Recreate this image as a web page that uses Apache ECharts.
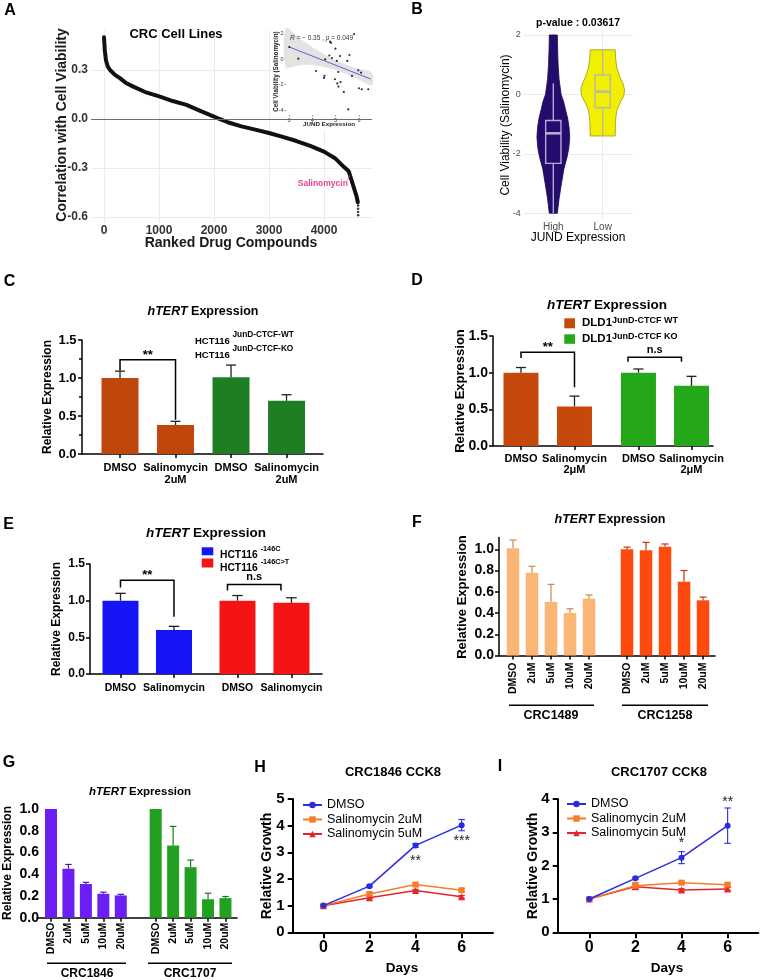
<!DOCTYPE html>
<html><head><meta charset="utf-8">
<script src="https://cdn.jsdelivr.net/npm/echarts@6/dist/echarts.min.js"></script>
<style>html,body{margin:0;padding:0;background:#fff}#main{width:761px;height:980px}</style>
</head><body><div id="main"></div>
<script>
const FONT = '"Liberation Sans", Arial, Helvetica, sans-serif';

// ================= DATA =================
// A: ranked drug compounds (correlation with cell viability)
const rankA = [0, 15, 36, 70, 110, 200, 290, 400, 533, 750, 1018, 1250, 1500, 1750, 2000, 2100, 2250, 2500, 2750, 3000, 3250, 3500, 3750, 4000, 4200, 4350, 4450, 4533, 4594, 4615];
const corrA = [0.50, 0.42, 0.36, 0.32, 0.30, 0.27, 0.25, 0.22, 0.198, 0.165, 0.137, 0.11, 0.086, 0.05, 0.015, 0.0, -0.02, -0.045, -0.065, -0.086, -0.11, -0.135, -0.165, -0.20, -0.24, -0.29, -0.32, -0.41, -0.476, -0.51];
const tailRankA = [4620, 4620, 4620, 4621];
const tailCorrA = [-0.53, -0.55, -0.57, -0.59];
const hitNameA = ['Salinomycin'];
const hitRankA = [4470];
const hitCorrA = [-0.345];
const tickAx = [0, 1000, 2000, 3000, 4000];
const tickAy = [-0.6, -0.3, 0, 0.3];
// A inset: JUND expression vs cell viability
const jundExpr = [3.01, 3.40, 4.16, 4.55, 4.52, 4.50, 4.76, 4.80, 4.73, 4.84, 4.99, 5.05, 4.97, 5.07, 5.12, 5.21, 5.19, 5.11, 5.35, 5.50, 5.54, 5.59, 5.70, 5.79, 5.97, 6.09, 6.00, 6.12, 6.40];
const viabSal = [0.97, 0.05, -0.92, 0.0, -1.30, -1.47, 1.39, 1.30, 0.30, 0.10, 0.84, -0.13, -1.57, -1.90, -2.15, -1.79, 0.26, -1.0, -2.57, -0.13, -3.95, 0.34, -1.31, 1.99, -0.87, -1.05, -2.28, -2.36, -2.36];
const fitX = [3.0, 6.5];
const fitY = [0.98, -1.55];
const bandX = [2.87, 3.5, 4.0, 4.5, 5.0, 5.5, 6.0, 6.56];
const bandLo = [-0.6, -0.45, -0.45, -0.6, -0.85, -1.2, -1.6, -2.05];
const bandHi = [2.45, 1.6, 0.95, 0.4, -0.1, -0.45, -0.75, -1.05];
const insetTickX = [3, 4, 5, 6];
const insetTickY = [-4, -2, 0, 2];

// B: violin (High / Low JUND)
const violinCats = ['High', 'Low'];
const highDensY = [2.0, 1.5, 1.0, 0.5, 0.0, -0.25, -0.5, -0.8, -1.1, -1.45, -1.8, -2.1, -2.5, -3.0, -3.5, -4.0];
const highDensW = [0.081, 0.087, 0.097, 0.117, 0.158, 0.21, 0.245, 0.29, 0.318, 0.332, 0.314, 0.28, 0.215, 0.165, 0.117, 0.081];
const lowDensY = [1.5, 1.2, 0.9, 0.6, 0.35, 0.15, -0.05, -0.25, -0.5, -0.75, -1.0, -1.4];
const lowDensW = [0.253, 0.263, 0.287, 0.344, 0.415, 0.445, 0.425, 0.364, 0.294, 0.267, 0.259, 0.253];
const boxHigh = [-4.0, -2.32, -1.31, -0.88, 0.37];
const boxLow = [-1.4, -0.45, 0.09, 0.65, 1.5];
const tickBy = [-4, -2, 0, 2];

// C
const labelsC = ['DMSO', 'Salinomycin\n2uM', 'DMSO', 'Salinomycin\n2uM'];
const valsC = [1.0, 0.38, 1.01, 0.70];
const errsC = [0.09, 0.05, 0.16, 0.08];
const bracketC = [[0, 1, 1.24, 1.10, 0.45]];
const bracketTextC = ['**'];
// D
const labelsD = ['DMSO', 'Salinomycin\n2μM', 'DMSO', 'Salinomycin\n2μM'];
const valsD = [1.0, 0.54, 1.0, 0.82];
const errsD = [0.07, 0.14, 0.05, 0.13];
const bracketD = [[0, 1, 1.28, 1.20, 0.80], [2, 3, 1.21, 1.15, 1.15]];
const bracketTextD = ['**', 'n.s'];
// E
const labelsE = ['DMSO', 'Salinomycin', 'DMSO', 'Salinomycin'];
const valsE = [1.0, 0.60, 1.0, 0.97];
const errsE = [0.10, 0.05, 0.07, 0.07];
const bracketE = [[0, 1, 1.28, 1.18, 0.78], [2, 3, 1.22, 1.14, 1.14]];
const bracketTextE = ['**', 'n.s'];
// F
const doseLabels = ['DMSO', '2uM', '5uM', '10uM', '20uM'];
const valsF1489 = [1.01, 0.78, 0.505, 0.40, 0.535];
const errsF1489 = [0.077, 0.06, 0.165, 0.04, 0.035];
const valsF1258 = [1.0, 0.99, 1.025, 0.695, 0.52];
const errsF1258 = [0.02, 0.075, 0.025, 0.105, 0.03];
const tickFy = [0, 0.2, 0.4, 0.6, 0.8, 1.0];
// G
const valsG1846 = [1.0, 0.45, 0.31, 0.22, 0.205];
const errsG1846 = [0, 0.04, 0.015, 0.015, 0.01];
const valsG1707 = [1.0, 0.665, 0.465, 0.17, 0.18];
const errsG1707 = [0, 0.175, 0.065, 0.055, 0.015];
// H
const days = [0, 2, 4, 6];
const dayTicks = [0, 2, 4, 6];
const hDMSO = [1.0, 1.73, 3.26, 4.02];
const hDMSOe = [0.03, 0.04, 0.07, 0.21];
const h2uM = [1.0, 1.44, 1.79, 1.58];
const h2uMe = [0.02, 0.07, 0.07, 0.05];
const h5uM = [1.0, 1.30, 1.57, 1.33];
const h5uMe = [0.02, 0.04, 0.04, 0.05];
const hStars = [[4, 2.83], [6, 3.55]];
const hStarText = ['**', '***'];
// I
const iDMSO = [1.0, 1.62, 2.24, 3.2];
const iDMSOe = [0.03, 0.03, 0.18, 0.53];
const i2uM = [1.0, 1.40, 1.49, 1.43];
const i2uMe = [0.02, 0.10, 0.04, 0.05];
const i5uM = [1.0, 1.37, 1.27, 1.30];
const i5uMe = [0.02, 0.08, 0.04, 0.04];
const iStars = [[4, 2.8], [6, 4.02]];
const iStarText = ['*', '**'];
const seriesNames = ['DMSO', 'Salinomycin 2uM', 'Salinomycin 5uM'];

// ================= BUILD =================
const grids = [], xAxes = [], yAxes = [], series = [], graphics = [], legends = [];

function addGrid(l, t, w, h) {
  grids.push({left: l, top: t, width: w, height: h, show: false, containLabel: false, outerBoundsMode: 'none'});
  return grids.length - 1;
}
function labelAt(pos, labels, v) {
  for (let i = 0; i < pos.length; i++) if (Math.abs(pos[i] - v) < 1e-6) return labels[i];
  return '';
}
function gText(x, y, text, fs, o) {
  o = o || {};
  const al = o.align || 'center', va = o.va || 'middle';
  graphics.push({type: 'text', x: x, y: y, rotation: o.rot || 0, z: 20, silent: true,
    style: {text: text, fontSize: fs, fontFamily: FONT, fontWeight: o.weight || 'bold', fontStyle: o.fstyle || 'normal',
      fill: o.color || '#000', align: al, verticalAlign: va, textAlign: al, textVerticalAlign: va, rich: o.rich}});
}
function gLine(x1, y1, x2, y2, w, c) {
  graphics.push({type: 'line', z: 20, silent: true, shape: {x1: x1, y1: y1, x2: x2, y2: y2}, style: {stroke: c || '#000', lineWidth: w || 1.5}});
}
function gRect(x, y, w, h, c, z) {
  graphics.push({type: 'rect', z: z || 20, silent: true, shape: {x: x, y: y, width: w, height: h}, style: {fill: c}});
}
const italicRich = (fs) => ({i: {fontStyle: 'italic', fontWeight: 'bold', fontSize: fs, fontFamily: FONT}});

function errBars(gi, xs, ys, es, colors, cap, lw, both) {
  series.push({type: 'custom', coordinateSystem: 'cartesian2d', xAxisIndex: gi, yAxisIndex: gi, z: 3, silent: true,
    data: xs.map((x, i) => [x, ys[i], es[i]]),
    renderItem: (params, api) => {
      const x = api.value(0), y = api.value(1), e = api.value(2);
      if (!(e > 0)) return null;
      const c = colors[params.dataIndex];
      const st = {stroke: c, lineWidth: lw};
      const a = api.coord([x, both ? y - e : y]), b = api.coord([x, y + e]);
      const ch = [
        {type: 'line', shape: {x1: a[0], y1: a[1], x2: b[0], y2: b[1]}, style: st},
        {type: 'line', shape: {x1: b[0] - cap / 2, y1: b[1], x2: b[0] + cap / 2, y2: b[1]}, style: st}];
      if (both) ch.push({type: 'line', shape: {x1: a[0] - cap / 2, y1: a[1], x2: a[0] + cap / 2, y2: a[1]}, style: st});
      return {type: 'group', children: ch};
    }});
}
function brackets(gi, br, texts) {
  series.push({type: 'custom', coordinateSystem: 'cartesian2d', xAxisIndex: gi, yAxisIndex: gi, z: 4, silent: true,
    data: br,
    renderItem: (params, api) => {
      const x1 = api.value(0), x2 = api.value(1), t = api.value(2), yl = api.value(3), yr = api.value(4);
      const p1 = api.coord([x1, yl]), p2 = api.coord([x1, t]), p3 = api.coord([x2, t]), p4 = api.coord([x2, yr]);
      const txt = texts[params.dataIndex];
      const star = txt.indexOf('*') >= 0;
      const gap = star ? 4.5 : 7.3;
      return {type: 'group', children: [
        {type: 'polyline', shape: {points: [p1, p2, p3, p4]}, style: {stroke: '#000', fill: 'none', lineWidth: 1.5}},
        {type: 'text', x: (p2[0] + p3[0]) / 2, y: p2[1] - gap, style: {text: txt, fontSize: star ? 13 : 11, fontWeight: 'bold', fontFamily: FONT, fill: '#000', align: 'center', verticalAlign: 'middle', textAlign: 'center', textVerticalAlign: 'middle'}}]};
    }});
}

function barPanel(p) {
  const gi = addGrid(p.left, p.top, p.width, p.height);
  const lw = p.lw || 1.5;
  xAxes.push({type: 'value', gridIndex: gi, min: p.xMin, max: p.xMax,
    axisLine: {show: true, onZero: false, lineStyle: {color: '#000', width: lw}},
    axisTick: {show: true, customValues: p.pos, length: 4, lineStyle: {color: '#000', width: lw}},
    axisLabel: {show: true, customValues: p.pos, formatter: (v) => labelAt(p.pos, p.labels, v), rotate: p.rotate || 0,
      margin: p.xMargin, fontSize: p.xFont, lineHeight: p.xLH || (p.xFont + 1), fontWeight: 'bold', fontFamily: FONT, color: '#000'},
    splitLine: {show: false}});
  const ya = {type: 'value', gridIndex: gi, min: p.yMin, max: p.yMax,
    axisLine: {show: p.yLine !== false, onZero: false, lineStyle: {color: '#000', width: lw}},
    axisTick: {show: p.yLine !== false, length: 4, lineStyle: {color: '#000', width: lw}},
    minorTick: {show: !!p.minor, splitNumber: 2, length: 3, lineStyle: {color: '#000', width: lw}},
    axisLabel: {show: true, formatter: (v) => v.toFixed(1), margin: p.yMargin, fontSize: p.yFont, fontWeight: 'bold', fontFamily: FONT, color: '#000'},
    splitLine: {show: false}};
  if (p.yInterval) ya.interval = p.yInterval;
  else { ya.axisTick.customValues = p.yTicks; ya.axisLabel.customValues = p.yTicks; }
  yAxes.push(ya);
  series.push({type: 'bar', xAxisIndex: gi, yAxisIndex: gi, barWidth: p.barWidth, z: 2, silent: true,
    data: p.pos.map((x, i) => ({value: [x, p.vals[i]], itemStyle: {color: p.colors[i]}}))});
  errBars(gi, p.pos, p.vals, p.errs, p.errColors, p.cap, p.errW || 1.3, false);
  if (p.brackets) brackets(gi, p.brackets, p.bracketText);
  return gi;
}

// ---------- Panel A ----------
const gA = addGrid(91, 30, 281, 192);
xAxes.push({type: 'value', gridIndex: gA, min: -236, max: 4873,
  axisLine: {show: false, onZero: false}, axisTick: {show: false, customValues: tickAx},
  axisLabel: {customValues: tickAx, formatter: (v) => String(Math.round(v)), margin: 3, fontSize: 12, fontWeight: 'bold', fontFamily: FONT, color: '#333'},
  splitLine: {show: true, lineStyle: {color: '#ebebeb', width: 1}}});
yAxes.push({type: 'value', gridIndex: gA, min: -0.631, max: 0.545,
  axisLine: {show: false, onZero: false}, axisTick: {show: false, customValues: tickAy},
  axisLabel: {customValues: tickAy, formatter: (v) => v.toFixed(1), margin: 3, fontSize: 12, fontWeight: 'bold', fontFamily: FONT, color: '#333'},
  splitLine: {show: true, lineStyle: {color: '#ebebeb', width: 1}}});
series.push({type: 'line', xAxisIndex: gA, yAxisIndex: gA, z: 2, silent: true, symbol: 'none', showSymbol: false,
  data: rankA.map((r, i) => [r, corrA[i]]), lineStyle: {color: '#111', width: 4, cap: 'round', join: 'round'},
  markLine: {silent: true, symbol: 'none', label: {show: false}, lineStyle: {color: '#6e6e6e', width: 1, type: 'solid'}, data: [{yAxis: 0}]}});
series.push({type: 'scatter', xAxisIndex: gA, yAxisIndex: gA, z: 2, silent: true, symbolSize: 2.6,
  itemStyle: {color: '#111'}, data: tailRankA.map((r, i) => [r, tailCorrA[i]])});
series.push({type: 'custom', coordinateSystem: 'cartesian2d', xAxisIndex: gA, yAxisIndex: gA, z: 4, silent: true,
  data: hitRankA.map((r, i) => [r, hitCorrA[i]]),
  renderItem: (params, api) => {
    const p = api.coord([api.value(0), api.value(1)]);
    return {type: 'group', children: [
      {type: 'line', shape: {x1: p[0], y1: p[1], x2: p[0] - 2.5, y2: p[1] + 5}, style: {stroke: '#e8448c', lineWidth: 0.8}},
      {type: 'text', x: p[0] - 2, y: p[1] + 8.7, style: {text: hitNameA[params.dataIndex], fill: '#e8448c', fontSize: 8.5, fontWeight: 'bold', fontFamily: FONT, align: 'right', verticalAlign: 'middle', textAlign: 'right', textVerticalAlign: 'middle'}}]};
  }});
// inset background
gRect(272, 22, 104, 108, '#fff', 3);
// inset
const gIn = addGrid(286, 28, 86, 87);
xAxes.push({type: 'value', gridIndex: gIn, min: 2.87, max: 6.56, z: 4,
  axisLine: {show: false, onZero: false}, axisTick: {show: true, customValues: insetTickX, length: 1.5, lineStyle: {color: '#444', width: 0.6}},
  axisLabel: {customValues: insetTickX, margin: 2.5, fontSize: 5.5, fontFamily: FONT, color: '#333'}, splitLine: {show: false}});
yAxes.push({type: 'value', gridIndex: gIn, min: -4.39, max: 2.47, z: 4,
  axisLine: {show: false, onZero: false}, axisTick: {show: true, customValues: insetTickY, length: 1.5, lineStyle: {color: '#444', width: 0.6}},
  axisLabel: {customValues: insetTickY, margin: 2.5, fontSize: 5.5, fontFamily: FONT, color: '#333'}, splitLine: {show: false}});
series.push({type: 'custom', coordinateSystem: 'cartesian2d', xAxisIndex: gIn, yAxisIndex: gIn, z: 5, silent: true,
  data: [[bandX[0], bandLo[0]]],
  renderItem: (params, api) => {
    const top = bandX.map((x, i) => api.coord([x, bandHi[i]]));
    const bot = bandX.map((x, i) => api.coord([x, bandLo[i]])).reverse();
    return {type: 'polygon', shape: {points: top.concat(bot), smooth: 0.3}, style: {fill: '#e3e3e3', stroke: 'none'}};
  }});
series.push({type: 'line', xAxisIndex: gIn, yAxisIndex: gIn, z: 6, silent: true, symbol: 'none',
  data: fitX.map((x, i) => [x, fitY[i]]), lineStyle: {color: '#3c3cd0', width: 0.8}});
series.push({type: 'scatter', xAxisIndex: gIn, yAxisIndex: gIn, z: 7, silent: true, symbolSize: 2.2,
  itemStyle: {color: '#000'}, data: jundExpr.map((x, i) => [x, viabSal[i]])});

// ---------- Panel B ----------
const gB = addGrid(523.7, 30.5, 108.6, 188.7);
xAxes.push({type: 'value', gridIndex: gB, min: 0.4, max: 2.6,
  axisLine: {show: false, onZero: false}, axisTick: {show: false, customValues: [1, 2]},
  axisLabel: {customValues: [1, 2], formatter: (v) => labelAt([1, 2], violinCats, v), margin: 3.5, fontSize: 10, fontFamily: FONT, color: '#4d4d4d'},
  splitLine: {show: true, lineStyle: {color: '#ebebeb', width: 1}}});
yAxes.push({type: 'value', gridIndex: gB, min: -4.2, max: 2.15,
  axisLine: {show: false, onZero: false}, axisTick: {show: false, customValues: tickBy},
  axisLabel: {customValues: tickBy, margin: 3, fontSize: 9, fontFamily: FONT, color: '#4d4d4d'},
  splitLine: {show: true, lineStyle: {color: '#ebebeb', width: 1}}});
function violin(pos, dy, dw, fill, stroke) {
  series.push({type: 'custom', coordinateSystem: 'cartesian2d', xAxisIndex: gB, yAxisIndex: gB, z: 3, silent: true,
    data: [[pos, dy[0]]],
    renderItem: (params, api) => {
      const r = dy.map((y, i) => api.coord([pos + dw[i], y]));
      const l = dy.map((y, i) => api.coord([pos - dw[i], y])).reverse();
      return {type: 'polygon', shape: {points: r.concat(l)}, style: {fill: fill, stroke: stroke, lineWidth: 0.8}};
    }});
}
function boxp(pos, b, stroke) {
  series.push({type: 'custom', coordinateSystem: 'cartesian2d', xAxisIndex: gB, yAxisIndex: gB, z: 4, silent: true,
    data: [[pos, b[0], b[1], b[2], b[3], b[4]]],
    renderItem: (params, api) => {
      const bw = 0.155;
      const c = (y, dx) => api.coord([pos + (dx || 0), y]);
      const st = {stroke: stroke, lineWidth: 1.4, fill: 'none'};
      const q3l = c(b[3], -bw), q1r = c(b[1], bw);
      return {type: 'group', children: [
        {type: 'line', shape: {x1: c(b[0])[0], y1: c(b[0])[1], x2: c(b[1])[0], y2: c(b[1])[1]}, style: st},
        {type: 'line', shape: {x1: c(b[3])[0], y1: c(b[3])[1], x2: c(b[4])[0], y2: c(b[4])[1]}, style: st},
        {type: 'rect', shape: {x: q3l[0], y: q3l[1], width: q1r[0] - q3l[0], height: q1r[1] - q3l[1]}, style: st},
        {type: 'line', shape: {x1: c(b[2], -bw)[0], y1: c(b[2])[1], x2: c(b[2], bw)[0], y2: c(b[2])[1]}, style: {stroke: stroke, lineWidth: 2.6}}]};
    }});
}
violin(1, highDensY, highDensW, '#230c6c', '#1a0850');
violin(2, lowDensY, lowDensW, '#f3ef00', '#9a9a10');
boxp(1, boxHigh, '#b4abdc');
boxp(2, boxLow, '#b9b9a6');

// ---------- Panel C ----------
barPanel({left: 82, top: 340, width: 241, height: 114, xMin: -0.685, xMax: 3.657, pos: [0, 1, 2, 3], labels: labelsC,
  xMargin: 8, xFont: 11, xLH: 12, yMin: 0, yMax: 1.5, yInterval: 0.5, minor: true, yMargin: 5.5, yFont: 13,
  barWidth: 37, vals: valsC, errs: errsC, colors: ['#c0470c', '#c0470c', '#1f7e24', '#1f7e24'],
  errColors: ['#222', '#222', '#222', '#222'], cap: 10, brackets: bracketC, bracketText: bracketTextC});
// ---------- Panel D ----------
barPanel({left: 493, top: 336, width: 220, height: 110, xMin: -0.523, xMax: 3.589, pos: [0, 1, 2.196, 3.187], labels: labelsD,
  xMargin: 7, xFont: 11, xLH: 11.5, yMin: 0, yMax: 1.5, yInterval: 0.5, yMargin: 5, yFont: 14,
  barWidth: 35, vals: valsD, errs: errsD, colors: ['#c5490a', '#c5490a', '#24a81a', '#24a81a'],
  errColors: ['#222', '#222', '#222', '#222'], cap: 10, brackets: bracketD, bracketText: bracketTextD});
// ---------- Panel E ----------
barPanel({left: 90, top: 564, width: 232, height: 110, xMin: -0.57, xMax: 3.767, pos: [0, 1, 2.187, 3.196], labels: labelsE,
  xMargin: 8, xFont: 10.5, yMin: 0, yMax: 1.5, yInterval: 0.5, yMargin: 5, yFont: 12,
  barWidth: 36, vals: valsE, errs: errsE, colors: ['#1414f5', '#1414f5', '#f51414', '#f51414'],
  errColors: ['#222', '#222', '#222', '#222'], cap: 10.5, brackets: bracketE, bracketText: bracketTextE});
// ---------- Panel F ----------
barPanel({left: 499, top: 537.6, width: 216, height: 117.9, xMin: -0.737, xMax: 10.63, pos: [0, 1, 2, 3, 4, 6, 7, 8, 9, 10],
  labels: doseLabels.concat(doseLabels), rotate: 90, xMargin: 7, xFont: 10.5,
  yMin: 0, yMax: 1.11, yTicks: tickFy, yMargin: 5, yFont: 14,
  barWidth: 12.5, vals: valsF1489.concat(valsF1258), errs: errsF1489.concat(errsF1258),
  colors: Array(5).fill('#fbb574').concat(Array(5).fill('#ff4a0d')),
  errColors: Array(5).fill('#c98a55').concat(Array(5).fill('#c0390a')), cap: 7, errW: 1.2});
// ---------- Panel G ----------
barPanel({left: 37, top: 809, width: 200, height: 108.7, xMin: -0.802, xMax: 10.66, pos: [0, 1, 2, 3, 4, 6, 7, 8, 9, 10],
  labels: doseLabels.concat(doseLabels), rotate: 90, xMargin: 5, xFont: 10.5, yLine: false,
  yMin: 0, yMax: 1.0, yInterval: 0.2, yMargin: -2, yFont: 14,
  barWidth: 12, vals: valsG1846.concat(valsG1707), errs: errsG1846.concat(errsG1707),
  colors: Array(5).fill('#6c1ff5').concat(Array(5).fill('#22a022')),
  errColors: Array(5).fill('#4a18b0').concat(Array(5).fill('#1a7a1a')), cap: 6.5, errW: 1.2});

// ---------- Panels H & I ----------
const lineColors = ['#2b2be0', '#f57d28', '#e6232d'];
const lineSymbols = ['circle', 'rect', 'triangle'];
function growthPanel(left, width, xMin, xMax, yMax, sets, errs, stars, starText) {
  const gi = addGrid(left, 799, width, 133.3);
  xAxes.push({type: 'value', gridIndex: gi, min: xMin, max: xMax,
    axisLine: {show: true, onZero: false, lineStyle: {color: '#000', width: 2}},
    axisTick: {show: true, customValues: dayTicks, length: 6, lineStyle: {color: '#000', width: 2}},
    axisLabel: {customValues: dayTicks, margin: 7, fontSize: 16, fontWeight: 'bold', fontFamily: FONT, color: '#000'},
    splitLine: {show: false}});
  yAxes.push({type: 'value', gridIndex: gi, min: 0, max: yMax, interval: 1,
    axisLine: {show: true, onZero: false, lineStyle: {color: '#000', width: 2}},
    axisTick: {show: true, length: 5, lineStyle: {color: '#000', width: 2}},
    axisLabel: {margin: 8, fontSize: 15, fontWeight: 'bold', fontFamily: FONT, color: '#000'},
    splitLine: {show: false}});
  sets.forEach((vals, k) => {
    errBars(gi, days, vals, errs[k], Array(days.length).fill(lineColors[k]), 6.5, 1.1, true);
  });
  sets.forEach((vals, k) => {
    series.push({type: 'line', name: seriesNames[k], xAxisIndex: gi, yAxisIndex: gi, z: 5 - k, silent: true,
      symbol: lineSymbols[k], symbolSize: k === 2 ? 7 : 6, showSymbol: true,
      data: days.map((d, i) => [d, vals[i]]),
      lineStyle: {color: lineColors[k], width: 1.5}, itemStyle: {color: lineColors[k]}});
  });
  series.push({type: 'custom', coordinateSystem: 'cartesian2d', xAxisIndex: gi, yAxisIndex: gi, z: 6, silent: true,
    data: stars,
    renderItem: (params, api) => {
      const p = api.coord([api.value(0), api.value(1)]);
      return {type: 'text', x: p[0], y: p[1] + 3.8, style: {text: starText[params.dataIndex], fontSize: 14, fontFamily: FONT, fill: '#222', align: 'center', verticalAlign: 'middle', textAlign: 'center', textVerticalAlign: 'middle'}};
    }});
  return gi;
}
growthPanel(292.7, 200.3, -1.33, 7.36, 5, [hDMSO, h2uM, h5uM], [hDMSOe, h2uMe, h5uMe], hStars, hStarText);
growthPanel(557.7, 200.6, -1.37, 7.33, 4, [iDMSO, i2uM, i5uM], [iDMSOe, i2uMe, i5uMe], iStars, iStarText);
const legendBase = {orient: 'vertical', itemWidth: 19, itemHeight: 8, itemGap: 1.5, selectedMode: false,
  data: seriesNames, textStyle: {fontSize: 12.5, fontFamily: FONT, color: '#000'}};
legends.push(Object.assign({left: 297, top: 793.5}, legendBase));
legends.push(Object.assign({left: 561, top: 792.5}, legendBase));

// ---------- Text / annotations ----------
[['A', 10, 11], ['B', 417, 10], ['C', 9.5, 282], ['D', 417, 281], ['E', 8.5, 525], ['F', 417, 523], ['G', 9, 763], ['H', 260, 768], ['I', 500, 767]]
  .forEach(t => gText(t[1], t[2], t[0], 16));
gText(176, 34, 'CRC Cell Lines', 13);
gText(578, 23, 'p-value : 0.03617', 10.5);
gText(203, 312, '{i|hTERT} Expression', 12.5, {rich: italicRich(12.5)});
gText(607, 305, '{i|hTERT} Expression', 13.5, {rich: italicRich(13.5)});
gText(206, 533, '{i|hTERT} Expression', 13.5, {rich: italicRich(13.5)});
gText(610, 520, '{i|hTERT} Expression', 12.5, {rich: italicRich(12.5)});
gText(140, 792, '{i|hTERT} Expression', 11.5, {rich: italicRich(11.5)});
gText(393, 772, 'CRC1846 CCK8', 13);
gText(659, 772, 'CRC1707 CCK8', 13);
const R90 = Math.PI / 2;
gText(62, 125, 'Correlation with Cell Viability', 14, {rot: R90, color: '#1a1a1a'});
gText(231, 243, 'Ranked Drug Compounds', 14, {color: '#1a1a1a'});
gText(506, 125, 'Cell Viability (Salinomycin)', 12, {rot: R90, weight: 'normal'});
gText(578, 238, 'JUND Expression', 12, {weight: 'normal'});
gText(276, 71.5, 'Cell Viability (Salinomycin)', 6.3, {rot: R90, color: '#222'});
gText(329, 124, 'JUND Expression', 6.2, {color: '#222'});
gText(290, 38.3, '{i|R} = − 0.35 , {i|p} = 0.049', 6.5, {align: 'left', weight: 'normal', color: '#333',
  rich: {i: {fontStyle: 'italic', fontSize: 6.5, fontFamily: FONT, fill: '#333'}}});
gText(48, 397, 'Relative Expression', 12, {rot: R90});
gText(460, 391, 'Relative Expression', 13, {rot: R90});
gText(57, 619, 'Relative Expression', 12, {rot: R90});
gText(462, 597, 'Relative Expression', 13, {rot: R90});
gText(8, 863, 'Relative Expression', 12, {rot: R90});
gText(266.7, 866, 'Relative Growth', 14, {rot: R90});
gText(533, 866, 'Relative Growth', 14, {rot: R90});
gText(402, 968, 'Days', 13.5);
gText(667, 968, 'Days', 13.5);
function supRich(bf, blh, sf, slh) {
  return {b: {fontSize: bf, fontWeight: 'bold', fontFamily: FONT, lineHeight: blh, verticalAlign: 'bottom', fill: '#000'},
          s: {fontSize: sf, fontWeight: 'bold', fontFamily: FONT, lineHeight: slh, verticalAlign: 'top', fill: '#000'}};
}
gText(195, 338.3, '{b|HCT116 }{s|JunD-CTCF-WT}', 9.5, {align: 'left', rich: supRich(9.5, 16, 8.3, 6)});
gText(195, 352.5, '{b|HCT116 }{s|JunD-CTCF-KO}', 9.5, {align: 'left', rich: supRich(9.5, 16, 8.3, 6)});
gRect(564.3, 318.3, 10.7, 10, '#c5490a');
gRect(564.3, 334.3, 10.7, 9.5, '#24a81a');
gText(582, 322.5, '{b|DLD1}{s|JunD-CTCF WT}', 11.5, {align: 'left', rich: supRich(11.5, 13, 9, 9)});
gText(582, 338.5, '{b|DLD1}{s|JunD-CTCF KO}', 11.5, {align: 'left', rich: supRich(11.5, 13, 9, 9)});
gRect(201.7, 547.3, 11.6, 8, '#1414f5');
gRect(201.7, 558.5, 11.6, 9, '#f51414');
gText(220, 553, '{b|HCT116 }{s|-146C}', 10.3, {align: 'left', rich: supRich(10.3, 15, 7.3, 6)});
gText(220, 565.7, '{b|HCT116 }{s|-146C>T}', 10.3, {align: 'left', rich: supRich(10.3, 15, 7.3, 6)});
gLine(509, 705.3, 594, 705.3, 1.5); gText(551, 716, 'CRC1489', 12.5);
gLine(622, 705.3, 708, 705.3, 1.5); gText(665, 716, 'CRC1258', 12.5);
gLine(47, 963.3, 126, 963.3, 1.5); gText(87, 974, 'CRC1846', 12);
gLine(148, 963.3, 232, 963.3, 1.5); gText(190, 974, 'CRC1707', 12);

const option = {
  animation: false,
  backgroundColor: '#fff',
  textStyle: {fontFamily: FONT},
  grid: grids, xAxis: xAxes, yAxis: yAxes, series: series,
  legend: legends,
  graphic: {elements: graphics},
  tooltip: {show: false}
};
const chart = echarts.init(document.getElementById('main'), null, {renderer: 'canvas', width: 761, height: 980});
chart.setOption(option);
</script></body></html>
